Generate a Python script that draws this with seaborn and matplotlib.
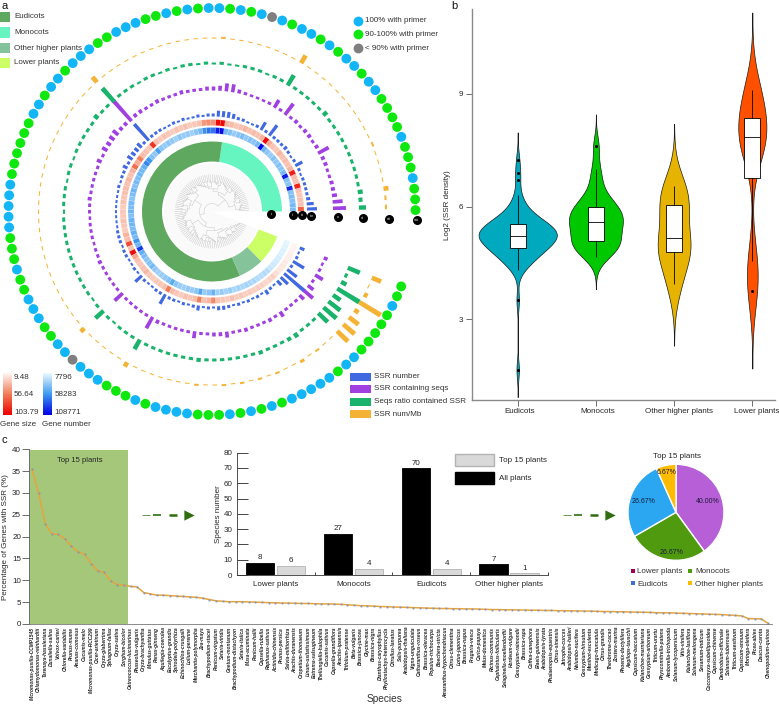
import numpy as np
import pandas as pd
import matplotlib
matplotlib.use("Agg")
import matplotlib.pyplot as plt
import seaborn as sns
from matplotlib.colors import LinearSegmentedColormap
from matplotlib.patches import Patch, Rectangle
from matplotlib.transforms import ScaledTranslation

# ---- panel a values, one per species going counter clockwise
primer_class = list("gggbgggbggggbbgbbgbgbbgbkbgbgbbgbgbggbbbggbbbgbbgbbggggggbbbbbgggbggbbbggbbkbbbgggbgbbbbgggbgbgbgbbbbbgbbgggggbgg")

gene_size = [68,30,30,28,30,90,30,32,92,35,30,32,30,35,28,30,38,100,35,30,32,30,35,30,28,32,34,100,100,48,50,46,30,28,26,30,27,30,25,28,30,27,30,85,28,30,32,55,38,62,36,30,34,30,32,30,28,30,26,28,27,30,28,26,36,32,75,30,100,40,30,28,30,34,28,26,27,28,30,58,32,28,26,30,28,32,55,30,34,52,30,28,26,30,25,28,24,26,24,26,24,22,23,24,18,15,15,14,12,12,10,10]
gene_num = [40000,42000,38000,40000,38000,95000,36000,38000,100000,42000,36000,38000,34000,38000,32000,36000,44000,105000,42000,36000,38000,34000,40000,36000,32000,38000,42000,105000,100000,70000,72000,62000,42000,36000,30000,34000,32000,36000,30000,34000,36000,32000,36000,55000,34000,38000,60000,65000,48000,42000,44000,40000,42000,38000,44000,40000,36000,42000,40000,44000,38000,46000,44000,40000,48000,42000,60000,44000,90000,48000,40000,36000,38000,42000,34000,30000,32000,34000,38000,50000,36000,32000,30000,34000,32000,36000,52000,32000,36000,46000,30000,32000,28000,32000,26000,28000,26000,28000,26000,26000,24000,22000,24000,22000,18000,16000,15000,14000,12000,12000,10000,9000]

ssr_number = [10,7,4,3,3,3,3,2,3,8,3,2,3,4,3,3,3,13,3,9,3,2,2,3,3,5,6,6,6,3,3,2,3,2,2,3,2,3,2,2,3,3,3,22,3,6,5,5,6,3,5,3,3,2,3,2,2,2,2,2,2,2,2,3,3,3,2,3,3,2,2,3,2,9,3,2,2,3,3,11,3,3,2,3,2,3,5,2,3,2,4,4,3,2,3,2,3,2,3,2,5,3,2,6,10,27,12,3,13,3,2,5]
ssr_seqs = [13,10,5,4,4,3,3,4,4,12,4,3,4,4,3,4,3,14,3,9,3,2.5,2.5,2.5,3,4,8,8,5,4,4,3,3,3,4,3,3,3,4,3,3,4,4,28,4,4,7,6,5,6,3,5,3,3,3,3,3,4,3,3,2.5,3,3,3,2.5,3,3,4,3,3,3,3,3,11,3,3,3,3,3,13,4,3,3,3,3,3,7,3,3,4,4,6,3,3,4,3,3,3,4,3,6,3,3,3,6,12,7,3,9,3,2.5,4]
seq_ratio = [7,4,5,3,3,3,3,3,3,3,3,3,3,5,3,3,3,3,3,12,3,3,2,3,3,3,2,2,3,2,3,2,3,3,2,3,2,3,3,2,3,3,3,18,3,3,5,3,3,3,3,3,2,3,3,2,3,3,3,2,3,3,3,3,3,3,3,3,3,3,3,2,3,11,3,2,3,3,3,11,3,3,3,3,3,3,3,4,3,3,3,3,3,3,3,4,3,3,3,4,5,3,3,3,13,17,15,9,26,6,3,13]
ssr_mb = [2,2,5,1,1,1,1,2,1,1,1,1,1,1,1,1,1,1,1,9,1,1,1,1,1,1,1,1,2,1,1,1,1,1,1,1,1,1,1,1,1,1,1,7,1,1,1,1,1,1,1,1,1,1,1,1,1,1,1,1,1,1,1,1,1,1,1,1,1,1,1,1,1,5,1,1,1,1,1,5,1,1,1,1,1,1,1,2,1,1,2,1,2,1,2,1,2,1,1,3,1,2,1,1,15,15,12,5,25,4,1,10]

clade_names = ["Monocots", "Eudicots", "Other higher plants", "Lower plants"]
clade_sizes = [27, 70, 7, 8]
clade_colors = ["#66f5c0", "#5fa85f", "#85c49b", "#ccff66"]

# ---- panel b values
eudicots_log = [1.65,3.5,4.3,4.4,4.45,4.5,4.55,4.6,4.65,4.7,4.72,4.75,4.78,4.8,4.82,4.85,4.87,4.88,4.92,4.95,4.97,5.0,5.02,5.05,5.07,5.09,5.1,5.12,5.13,5.15,5.16,5.18,5.19,5.2,5.22,5.23,5.25,5.26,5.28,5.3,5.31,5.33,5.35,5.37,5.38,5.4,5.42,5.44,5.46,5.48,5.5,5.51,5.53,5.55,5.58,5.6,5.63,5.66,5.7,5.73,5.77,5.82,5.88,5.95,6.05,6.18,6.3,6.7,6.9,7.25]
monocots_log = [4.65,4.75,4.82,4.9,4.97,5.03,5.06,5.1,5.2,5.3,5.4,5.48,5.55,5.6,5.63,5.68,5.75,5.82,5.9,5.98,6.02,6.1,6.2,6.4,6.7,7.0,7.6]
other_log = [3.95,4.75,4.85,5.15,5.9,6.2,6.55]
lower_log = [3.75,4.55,7.48,7.7,8.0,8.2,8.8,9.1]

# ---- panel c values
species = ["Micromonas-pusilla-CCMP1545","Chlamydomonas-reinhardtii","Tarenaya-hassleriana","Dunaliella-salina","Volvox-carteri","Chlorella-variabilis","Prunus-mume","Ananas-comosus","Cucumis-melo","Micromonas-pusilla-RCC299","Cicer-arietinum","Oryza-glaberrima","Sphagnum-fallax","Oryza-sativa","Sorghum-bicolor","Ostreococcus-lucimarinus","Phaseolus-vulgaris","Oryza-brachyantha","Mimulus-guttatus","Panax-ginseng","Aquilegia-coerulea","Eucalyptus-grandis","Spirodela-polyrhiza","Echinochloa-crusgalli","Lolium-perenne","Marchantia-polymorpha","Zea-mays","Brachypodium-stacei","Panicum-virgatum","Setaria-viridis","Gnetum-montanum","Brachypodium-distachyon","Setaria-italica","Musa-acuminata","Panicum-hallii","Capsella-rubella","Raphanus-sativus","Actinidia-chinensis","Prunus-persica","Salvia-miltiorrhiza","Arachis-duranensis","Oropetium-thomaeum","Linum-usitatissimum","Eutrema-salsugineum","Thellungiella-halophila","Cucumis-sativus","Capsella-grandiflora","Arachis-ipaensis","Trifolium-pratense","Beta-vulgaris","Brassica-juncea","Glycine-max","Brassica-nigra","Dianthus-caryophyllus","Phyllostachys-heterocycla","Citrullus-lanatus","Salix-purpurea","Arabidopsis-thaliana","Vigna-unguiculata","Catharanthus-roseus","Brassica-oleracea","Populus-trichocarpa","Boechera-stricta","Amaranthus-hypochondriacus","Citrus-clementina","Lotus-japonicus","Brassica-napus","Fragaria-vesca","Carica-papaya","Malus-domestica","Ricinus-communis","Cephalotus-follicularis","Selaginella-moellendorffii","Hordeum-vulgare","Gossypium-raimondii","Brassica-rapa","Coffea-canephora","Elaeis-guineensis","Arabidopsis-lyrata","Phalaenopsis-equestris","Citrus-sinensis","Jatropha-curcas","Arabidopsis-halleri","Nelumbo-nucifera","Gossypium-hirsutum","Manihot-esculenta","Medicago-truncatula","Citrus-grandis","Theobroma-cacao","Zostera-marina","Phoenix-dactylifera","Aegilops-tauschii","Capsicum-baccatum","Kalanchoe-marnieriana","Gossypium-arboreum","Triticum-urartu","Physcomitrella-patens","Amborella-trichopoda","Solanum-lycopersicum","Vitis-vinifera","Kalanchoe-laxiflora","Solanum-melongena","Sesamum-indicum","Coccomyxa-subellipsoidea","Capsicum-chinense","Dendrobium-officinale","Solanum-tuberosum","Triticum-aestivum","Capsicum-annuum","Moringa-oleifera","Picea-abies","Daucus-carota","Chenopodium-quinoa"]
genes_pct = [35.5,30,23,20.7,20.5,19.5,17.8,16.5,16,13.8,12.2,11.8,9.8,9,8.9,8.6,8.5,7.2,6.9,6.6,6.6,6.5,6.4,6.3,6.2,6.1,5.9,5.6,5.3,5.2,5.1,5.1,5.1,5.05,5.0,4.95,4.9,4.85,4.8,4.8,4.75,4.7,4.7,4.65,4.6,4.6,4.55,4.5,4.4,4.3,4.2,4.15,4.1,4.0,3.95,3.9,3.85,3.8,3.75,3.7,3.65,3.6,3.55,3.55,3.5,3.5,3.45,3.45,3.4,3.35,3.3,3.3,3.25,3.25,3.2,3.2,3.15,3.15,3.1,3.1,3.05,3.05,3.0,3.0,2.95,2.95,2.9,2.85,2.85,2.8,2.8,2.75,2.7,2.7,2.65,2.6,2.55,2.55,2.5,2.45,2.4,2.35,2.3,2.25,2.2,2.15,2.05,1.95,1.85,1.25,1.2,1.15,0.15]

bar_groups = ["Lower plants", "Monocots", "Eudicots", "Other higher plants"]
all_plants = [8, 27, 70, 7]
top_plants = [6, 4, 4, 1]

pie_values = [40.00, 26.67, 26.67, 6.67]
pie_colors = ["#b65fd6", "#4f9a0f", "#2aa7f0", "#ffbb00"]

W, H = 779, 705
FS = 5.75
sns.set_theme(style="white")
plt.rcParams["font.family"] = ["Liberation Sans", "DejaVu Sans"]
plt.rcParams["font.size"] = FS
fig = plt.figure(figsize=(W / 100, H / 100), dpi=100)


def px_axes(left, top, right, bottom, **kw):
    return fig.add_axes([left / W, 1 - bottom / H, (right - left) / W, (bottom - top) / H], **kw)


# PANEL A - circular tracks
CX, CY, RMAX = 212, 211.5, 212
ax_a = px_axes(CX - RMAX, CY - RMAX, CX + RMAX, CY + RMAX, projection="polar")
ax_a.set_ylim(0, RMAX)
ax_a.axis("off")

n_sp = len(gene_size)
step = np.deg2rad(339 / n_sp)
theta = (np.arange(n_sp) + 0.5) * step

# pale disc behind the tree
ax_a.bar(step * n_sp / 2, 48, width=step * n_sp, bottom=0, color="#fafafa", linewidth=0)


def draw_tree(lo, hi):
    # little recursive dendrogram, returns angle and radius of the node
    size = hi - lo
    if size == 1:
        return theta[lo], 37
    cut = lo + max(1, int(size * 0.36))
    t1, r1 = draw_tree(lo, cut)
    t2, r2 = draw_tree(cut, hi)
    r = 8 + 27 * (1 - (size / n_sp) ** 0.42)
    ax_a.plot([t1, t1], [r, r1], color="#b4b4b4", lw=0.25)
    ax_a.plot([t2, t2], [r, r2], color="#b4b4b4", lw=0.25)
    ax_a.plot(np.linspace(t1, t2, 20), [r] * 20, color="#b4b4b4", lw=0.25)
    return (t1 + t2) / 2, r


draw_tree(0, n_sp)

# clade ring
start = 0
for size, col in zip(clade_sizes, clade_colors):
    ax_a.bar(step * (start + size / 2), 20, width=step * size, bottom=50, color=col, linewidth=0)
    start += size

# heat rings
cmap_size = LinearSegmentedColormap.from_list("gs", ["#fff5f2", "#f17d58", "#ee0000"])
cmap_num = LinearSegmentedColormap.from_list("gn", ["#e8f9ff", "#3f9bf0", "#0000e6"])
ax_a.bar(theta, 6, width=step, bottom=78, color=cmap_num((np.array(gene_num) - 7796) / (108771 - 7796)),
         edgecolor="white", linewidth=0.1)
ax_a.bar(theta, 6, width=step, bottom=86, color=cmap_size((np.array(gene_size) - 9.48) / (103.79 - 9.48)),
         edgecolor="white", linewidth=0.1)

# bar tracks
track_colors = ["#4169e1", "#a040e0", "#19b36b", "#f5b335"]
for vals, base, col, frac in zip([ssr_number, ssr_seqs, seq_ratio, ssr_mb], [95, 121, 147, 173], track_colors,
                                 [0.6, 0.55, 0.55, 0.5]):
    ax_a.bar(theta, vals, width=step * frac, bottom=base, color=col, linewidth=0)

# primer dots
dot_cols = {"b": "#12b5f5", "g": "#0ee80e", "k": "#7f7f7f"}
dot_theta = np.linspace(np.deg2rad(0.4), np.deg2rad(338.4), len(primer_class))
ax_a.scatter(dot_theta, [203.5] * len(primer_class), s=50,
             c=[dot_cols[c] for c in primer_class], linewidths=0, clip_on=False)

# black track markers
for i, rr in enumerate([59, 81, 90, 99, 126, 151, 177, 205]):
    rom = ["i", "ii", "iii", "iv", "v", "vi", "vii", "viii"][i]
    ax_a.scatter([np.deg2rad(-2.4)], [rr], s=42, color="black", linewidths=0, clip_on=False)
    ax_a.text(np.deg2rad(-2.4), rr, rom, color="white", fontsize=3, ha="center", va="center")

# PANEL B - violins
ax_b = px_axes(471.7, 9.3, 775, 400)
groups = ["Eudicots", "Monocots", "Other higher plants", "Lower plants"]
violin_df = pd.DataFrame({
    "group": ["Eudicots"] * len(eudicots_log) + ["Monocots"] * len(monocots_log)
             + ["Other higher plants"] * len(other_log) + ["Lower plants"] * len(lower_log),
    "log2": eudicots_log + monocots_log + other_log + lower_log,
})
violin_cols = ["#00a9bd", "#00c800", "#e6b400", "#ff5000"]
violin_width = [1.0, 0.69, 0.42, 0.36]
violin_bw = [0.33, 0.4, 0.6, 0.35]
for g, col, w, bw in zip(groups, violin_cols, violin_width, violin_bw):
    sub = violin_df[violin_df["group"] == g]
    sns.violinplot(data=sub, x="group", y="log2", order=groups, color=col, width=w, bw_method=bw, cut=3,
                   inner=None, linewidth=0.5, linecolor="#1a1a1a", saturation=1, density_norm="width", ax=ax_b)
sns.boxplot(data=violin_df, x="group", y="log2", order=groups, color="white", width=0.2, showcaps=False,
            fliersize=1.2, linewidth=0.6, linecolor="black", saturation=1,
            flierprops={"markerfacecolor": "black", "markeredgecolor": "black"}, ax=ax_b)
ax_b.set_xlim(-0.588, 3.29)
ax_b.set_ylim(0.85, 11.25)
ax_b.set_yticks([3, 6, 9])
ax_b.set_xlabel("")
ax_b.set_ylabel("Log2 (SSR density)", fontsize=FS, labelpad=6)
ax_b.tick_params(axis="both", labelsize=FS, length=4, width=0.6, color="#555555", pad=2, left=True, bottom=True)
sns.despine(ax=ax_b)
for side in ["left", "bottom"]:
    ax_b.spines[side].set_color("#8a8a8a")
    ax_b.spines[side].set_linewidth(1)
# labels sit slightly right of their ticks in the original
for lab, shift in zip(ax_b.get_xticklabels(), [2, 2, 5, 4]):
    lab.set_transform(lab.get_transform() + ScaledTranslation(shift / 100, 0, fig.dpi_scale_trans))

# PANEL C - line
ax_c = px_axes(29.3, 449.3, 772, 624)
ax_c.axvspan(-0.3, 14.6, ymax=0.995, color="#a4c77a", linewidth=0)
sns.lineplot(x=np.arange(len(genes_pct)), y=genes_pct, color="#e8a33d", lw=1.1, marker="s", markersize=1.3,
             markerfacecolor="#7f95b8", markeredgewidth=0, ax=ax_c)
ax_c.set_xlim(-0.41, 112.6)
ax_c.set_ylim(0, 40)
ax_c.set_yticks(range(0, 41, 5))
ax_c.set_xticks(np.arange(len(species)))
ax_c.set_xticklabels(species, rotation=90, fontsize=3.5, style="italic", fontweight="bold", color="#222222")
ax_c.tick_params(axis="x", length=0, pad=2)
ax_c.tick_params(axis="y", labelsize=FS, length=5, width=0.6, color="#555555", pad=1, left=True)
ax_c.set_ylabel("Percentage of Genes with SSR (%)", fontsize=FS, labelpad=2)
ax_c.text(7.2, 37.4, "Top 15 plants", fontsize=5.5, ha="center", va="center")
ax_c.set_xlabel("")
sns.despine(ax=ax_c)
ax_c.spines["bottom"].set_color("#777777")
ax_c.spines["bottom"].set_linewidth(0.6)
ax_c.spines["left"].set_color("#555555")
ax_c.spines["left"].set_linewidth(0.6)

# inset bars
ax_bar = px_axes(236.7, 452.7, 548, 575)
bar_df = pd.DataFrame({
    "group": bar_groups * 2,
    "count": all_plants + top_plants,
    "kind": ["All plants"] * 4 + ["Top 15 plants"] * 4,
})
sns.barplot(data=bar_df, x="group", y="count", hue="kind", order=bar_groups,
            hue_order=["All plants", "Top 15 plants"], palette=["black", "#d9d9d9"], width=0.8, gap=0.09,
            saturation=1, legend=False, ax=ax_bar)
for cont, ec in zip(ax_bar.containers, ["black", "#b3b3b3"]):
    for p in cont:
        p.set_edgecolor(ec)
        p.set_linewidth(0.6)
    ax_bar.bar_label(cont, fontsize=FS, padding=1, color="#222222")
ax_bar.set_xlim(-0.5, 3.5)
ax_bar.set_ylim(0, 80)
ax_bar.set_yticks(range(0, 81, 10))
ax_bar.set_xticks([0, 1, 2, 3])
ax_bar.set_xticks([0.5, 1.5, 2.5, 3.5], minor=True)
ax_bar.set_xlabel("")
ax_bar.set_ylabel("Species number", fontsize=FS, labelpad=1)
ax_bar.tick_params(axis="x", which="major", length=0, labelsize=FS, pad=4)
ax_bar.tick_params(axis="x", which="minor", length=2, width=0.6, direction="in", bottom=True)
ax_bar.tick_params(axis="y", labelsize=FS, length=8, width=0.6, direction="in", left=True, pad=3)
sns.despine(ax=ax_bar)
for side in ["left", "bottom"]:
    ax_bar.spines[side].set_color("#333333")
    ax_bar.spines[side].set_linewidth(0.6)
ax_bar.patch.set_alpha(0)
ax_bar.legend(handles=[Patch(facecolor="#d9d9d9", edgecolor="#b3b3b3", label="Top 15 plants"),
                       Patch(facecolor="black", edgecolor="black", label="All plants")],
              loc="upper left", bbox_to_anchor=(0.70, 0.99), frameon=False, fontsize=FS, handlelength=4.9,
              handleheight=1.9, labelspacing=0.75, handletextpad=0.6, borderaxespad=0, borderpad=0)

# pie
ax_pie = px_axes(676 - 50, 512.3 - 50, 676 + 50, 512.3 + 50)
wedges, txt, auto = ax_pie.pie(pie_values, colors=pie_colors, startangle=90, counterclock=False, radius=0.96,
                               autopct="%.2f%%", pctdistance=0.7,
                               wedgeprops={"edgecolor": "white", "linewidth": 1},
                               textprops={"fontsize": 5, "color": "#1b1b3a"})
auto[1].set_position((-0.08, -0.81))
auto[3].set_position((-0.18, 0.80))
ax_pie.set_xlim(-1, 1)
ax_pie.set_ylim(-1, 1)

# OVERLAY - legends and annotation in pixel units
ov = px_axes(0, 0, W, H)
ov.axis("off")
ov.patch.set_alpha(0)

for name, col, y in zip(["Eudicots", "Monocots", "Other higher plants", "Lower plants"],
                        ["#5fa85f", "#66f5c0", "#85c49b", "#ccff66"], [17, 32.5, 48, 63]):
    ov.add_patch(Rectangle((0, y - 5.5), 10.5, 10.5, color=col, linewidth=0))
    ov.text(14, y, name, fontsize=FS, va="center", color="#333333")

for name, col, y in zip(["100% with primer", "90-100% with primer", "< 90% with primer"],
                        ["#12b5f5", "#0ee80e", "#7f7f7f"], [20.5, 34, 47.5]):
    ov.scatter([357.7], [y], s=50, color=col, linewidths=0)
    ov.text(365, y + 0.5, name, fontsize=FS, va="center", color="#333333")

for name, col, y in zip(["SSR number", "SSR containing seqs", "Seqs ratio contained SSR", "SSR num/Mb"],
                        track_colors, [376.5, 389, 401.5, 414]):
    ov.add_patch(Rectangle((350.5, y - 4), 21, 8, color=col, linewidth=0))
    ov.text(374, y, name, fontsize=FS, va="center", color="#333333")

ov.imshow(np.linspace(0, 1, 64).reshape(-1, 1), cmap=cmap_size, extent=(2.7, 11.7, 415, 373), aspect="auto")
ov.imshow(np.linspace(0, 1, 64).reshape(-1, 1), cmap=cmap_num, extent=(43, 52, 415, 373), aspect="auto")
for lab, x, y in [("9.48", 14, 377.7), ("56.64", 14, 395), ("103.79", 14, 412.7),
                  ("7796", 54.3, 377.7), ("58283", 54.3, 395), ("108771", 54.3, 412.7),
                  ("Gene size", 0.5, 424), ("Gene number", 42, 424)]:
    ov.text(x, y, lab, fontsize=FS, va="center", color="#333333")

for lab, x, y in [("a", 1, 6), ("b", 451, 6), ("c", 1, 440)]:
    ov.text(x, y, lab, fontsize=8, va="center", color="#111111")

ov.text(385, 699, "Species", fontsize=7.3, ha="center", va="center", color="#333333")
ov.text(677.5, 457, "Top 15 plants", fontsize=FS, ha="center", va="center", color="#222222")

# dashed green arrows
for x0 in [142, 563]:
    for dx, w_line in [(0, 0.5), (11, 1.2), (27, 1.8)]:
        ov.plot([x0 + dx, x0 + dx + 8], [514.5, 514.5], color="#2f6d0f", lw=w_line, solid_capstyle="butt")
    ov.scatter([x0 + 47], [514.5], marker=">", s=55, color="#2f6d0f", linewidths=0)

# pie legend
for name, col, x, y in [("Lower plants", "#a0004f", 633, 571.5), ("Monocots", "#4f9a0f", 690.5, 571.5),
                        ("Eudicots", "#3f6fd6", 633, 584), ("Other higher plants", "#ffbb00", 690.5, 584)]:
    ov.scatter([x], [y - 1], marker="s", s=9, color=col, linewidths=0)
    ov.text(x + 4.5, y, name, fontsize=FS, va="center", color="#333333")

ov.set_xlim(0, W)
ov.set_ylim(H, 0)

fig.savefig("out.png", dpi=100)
